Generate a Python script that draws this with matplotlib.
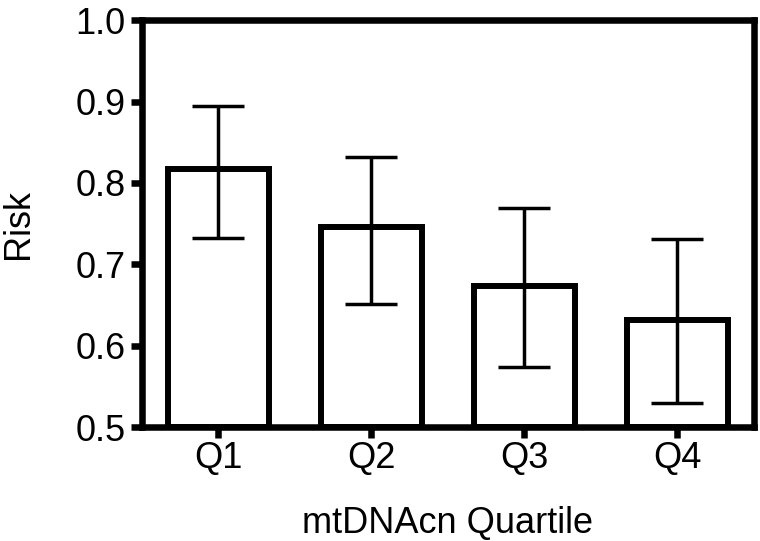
import matplotlib
matplotlib.use("Agg")
import matplotlib.pyplot as plt

categories = ["Q1", "Q2", "Q3", "Q4"]
risk = [0.817, 0.746, 0.673, 0.632]
err_upper = [0.894, 0.832, 0.769, 0.731]
err_lower = [0.732, 0.651, 0.574, 0.530]
y_ticks = [0.5, 0.6, 0.7, 0.8, 0.9, 1.0]

plt.rcParams['font.family'] = ['Liberation Sans', 'DejaVu Sans']

fig = plt.figure(figsize=(7.6, 5.41), dpi=100)
ax = fig.add_axes([0.1868, 0.2107, 0.805, 0.752])

x = list(range(len(categories)))
yerr = [[r - lo for r, lo in zip(risk, err_lower)],
        [hi - r for r, hi in zip(risk, err_upper)]]

ax.bar(x, [r - 0.5 for r in risk], bottom=0.5, width=0.66, color='white',
       edgecolor='black', linewidth=4.3, zorder=2)
ax.errorbar(x, risk, yerr=yerr, fmt='none', ecolor='black', elinewidth=2.5,
            capsize=19, capthick=2.5, zorder=3)

ax.set_xlim(-0.5, 3.5)
ax.set_ylim(0.5, 1.0)
ax.set_yticks(y_ticks)
ax.set_yticklabels([f"{t:.1f}" for t in y_ticks])
ax.set_xticks(x)
ax.set_xticklabels(categories)

for s in ax.spines.values():
    s.set_linewidth(4.7)
ax.tick_params(axis='y', direction='out', length=8, width=4.7, labelsize=26, pad=4)
ax.tick_params(axis='x', direction='out', length=8, width=4.7, labelsize=26, pad=2)

ax.set_xlabel("mtDNAcn Quartile", fontsize=26, labelpad=22)
ax.set_ylabel("Risk", fontsize=26, labelpad=28)

fig.savefig("out.png", dpi=100)
